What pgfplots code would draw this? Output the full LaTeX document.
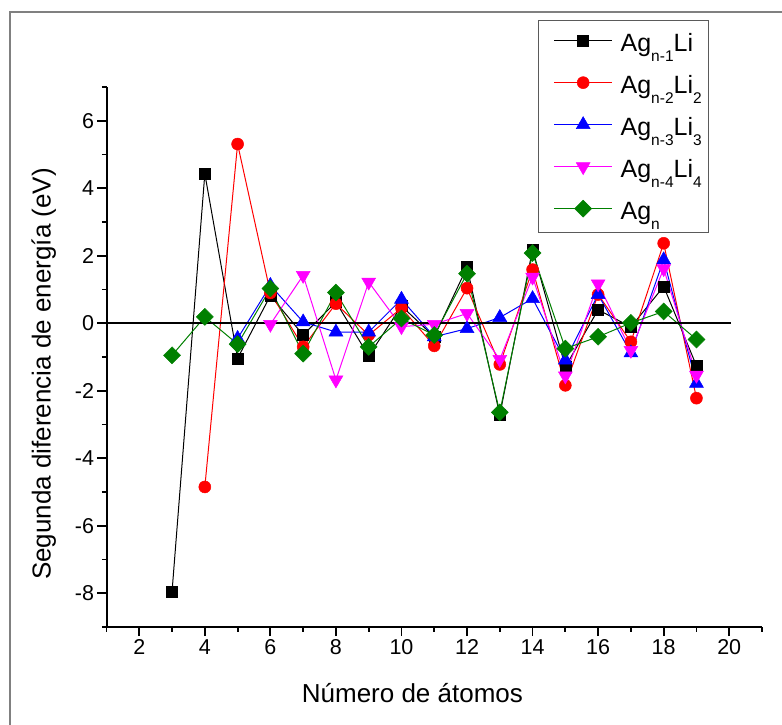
\documentclass[border=0pt]{standalone}
\usepackage{fontspec}
\setmainfont{Liberation Sans}
\usepackage{pgfplots}
\pgfplotsset{compat=1.18}
\definecolor{sred}{RGB}{255,0,0}
\definecolor{sblue}{RGB}{0,0,255}
\definecolor{smag}{RGB}{255,0,255}
\definecolor{sgreen}{RGB}{0,128,0}
\definecolor{framegray}{RGB}{128,128,128}
\definecolor{leggray}{RGB}{90,90,90}
\newcommand{\sub}[1]{\raisebox{-10pt}{\fontsize{15.5}{15.5}\selectfont #1}}
\begin{document}
\begin{tikzpicture}[x=1pt,y=1pt]
\path[use as bounding box] (0,0) rectangle (782,724);
\draw[framegray, line width=1.3pt] (10,-5) -- (10,712) -- (790,712);
\begin{axis}[
  at={(106.5pt,97pt)}, anchor=south west, scale only axis,
  width=655.5pt, height=540pt,
  xmin=1, xmax=21, ymin=-9, ymax=7,
  axis x line=bottom, axis y line=left,
  axis line style={-, line width=2pt},
  xtick={2,4,...,20}, minor xtick={1,3,...,21},
  ytick={-8,-6,...,6}, minor ytick={-9,-7,...,7},
  tick align=outside, major tick length=9pt, minor tick length=4.5pt,
  major tick style={black, line width=1.8pt},
  minor tick style={black, line width=1.8pt},
  ticklabel style={font=\fontsize{21.5}{21.5}\selectfont},
  /pgf/number format/assume math mode=true,
  xlabel={Número de átomos},
  ylabel={Segunda diferencia de energía (eV)},
  label style={font=\fontsize{26}{26}\selectfont},
  xlabel style={at={(rel axis cs:0.4667,-0.1407)}, anchor=base},
  ylabel style={at={(rel axis cs:-0.0851,0.4685)}, anchor=base, rotate=0},
  clip=false,
  legend cell align=left,
  legend style={at={(rel axis cs:0.6583,1.1241)}, anchor=north west,
    draw=leggray, line width=1.3pt, fill=white,
    inner xsep=7pt, inner ysep=1pt, row sep=0pt,
    font=\fontsize{25}{25}\selectfont,
    nodes={inner sep=0pt, text height=30pt, text depth=12pt},
    /tikz/every odd column/.append style={column sep=8pt}},
  legend image code/.code={\path (0pt,0pt); \draw[mark repeat=2, mark phase=2] plot coordinates {(8pt,2pt) (37pt,2pt) (66pt,2pt)};},
]
\addplot[black, line width=1pt, mark=square*, mark size=5.5pt, mark options={solid, fill=black, draw=black, line width=0.5pt}] coordinates {
(3,-7.95) (4,4.43) (5,-1.04) (6,0.82) (7,-0.35) (8,0.63) (9,-0.97) (10,0.51) (11,-0.40) (12,1.66) (13,-2.72) (14,2.19) (15,-1.29) (16,0.40) (17,-0.11) (18,1.09) (19,-1.26)};
\addlegendentry{Ag\sub{n-1}Li}
\addplot[sred, line width=1pt, mark=*, mark size=6pt, mark options={solid, fill=sred, draw=sred, line width=0.5pt}] coordinates {
(4,-4.85) (5,5.31) (6,0.90) (7,-0.70) (8,0.58) (9,-0.35) (10,0.45) (11,-0.67) (12,1.04) (13,-1.22) (14,1.59) (15,-1.84) (16,0.85) (17,-0.55) (18,2.37) (19,-2.22)};
\addlegendentry{Ag\sub{n-2}Li\sub{2}}
\addplot[sblue, line width=1pt, mark=triangle*, mark size=8pt, mark options={solid, fill=sblue, draw=sblue, line width=0.5pt}] coordinates {
(5,-0.45) (6,1.12) (7,0.04) (8,-0.26) (9,-0.26) (10,0.71) (11,-0.40) (12,-0.16) (13,0.17) (14,0.73) (15,-1.09) (16,0.85) (17,-0.88) (18,1.88) (19,-1.78)};
\addlegendentry{Ag\sub{n-3}Li\sub{3}}
\addplot[smag, line width=1pt, mark=triangle*, mark size=8pt, mark options={solid, rotate=180, fill=smag, draw=smag, line width=0.5pt}] coordinates {
(6,-0.03) (7,1.42) (8,-1.68) (9,1.22) (10,-0.10) (11,-0.03) (12,0.29) (13,-1.07) (14,1.37) (15,-1.56) (16,1.17) (17,-0.80) (18,1.62) (19,-1.54)};
\addlegendentry{Ag\sub{n-4}Li\sub{4}}
\addplot[sgreen, line width=1pt, mark=square*, mark size=6pt, mark options={solid, rotate=45, fill=sgreen, draw=sgreen, line width=0.5pt}] coordinates {
(3,-0.95) (4,0.19) (5,-0.62) (6,1.03) (7,-0.90) (8,0.91) (9,-0.70) (10,0.14) (11,-0.35) (12,1.47) (13,-2.64) (14,2.08) (15,-0.75) (16,-0.40) (17,0.01) (18,0.35) (19,-0.48)};
\addlegendentry{Ag\sub{n}}
\addplot[black, line width=2pt, forget plot] coordinates {(1,0) (20.05,0)};
\end{axis}
\end{tikzpicture}
\end{document}
